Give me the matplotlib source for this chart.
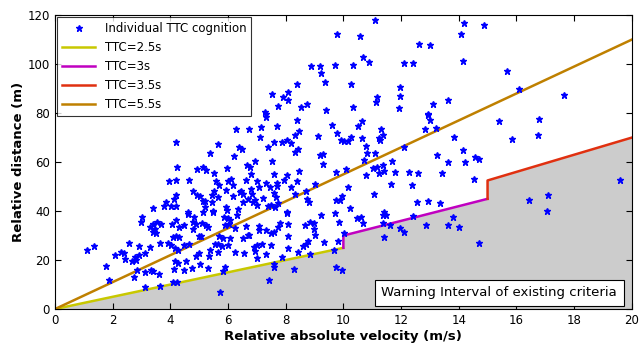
import numpy as np
import matplotlib.pyplot as plt

# relative velocity (m/s) and distance (m) of each individual TTC cognition
vel = [9.77, 8.87, 9.18, 9.71, 9.21, 9.38, 8.40, 7.51, 7.90, 8.09, 8.08, 7.73, 8.53, 8.73, 9.40, 7.30,
       11.11, 10.57, 14.17, 14.88, 14.08, 12.62, 13.01, 10.68, 10.89, 10.34, 12.09, 12.41, 14.14, 10.25,
       11.98, 11.96, 11.17, 11.13, 13.64, 13.12, 10.32, 11.94, 12.94,
       15.66, 16.08, 17.66,
       4.18, 4.22, 4.91, 3.96, 4.20, 4.65, 4.77, 4.20, 4.11, 4.93, 3.86, 3.78, 4.03, 4.19, 3.39, 4.63,
       7.31, 7.33, 8.40, 6.28, 6.72, 7.15, 7.71, 8.45, 7.12, 8.32, 9.62, 9.78, 9.12, 9.91, 5.64, 7.58,
       7.86, 8.03, 8.18, 7.38, 6.39, 6.48, 8.43, 8.31, 5.37, 6.21, 9.19, 9.30, 9.31, 7.53, 6.93, 6.67,
       6.76, 5.13, 5.23, 5.97, 5.51, 6.78, 7.61, 8.05, 8.46, 9.76, 6.09, 5.99, 5.60, 6.62, 6.99, 7.94,
       8.38, 7.70, 5.70, 6.18, 7.32, 7.47, 7.71, 7.08, 9.01, 8.19, 5.52, 5.93, 6.45, 6.78, 5.44, 6.41,
       6.53, 6.83, 7.61, 8.70, 8.34, 5.04, 5.65, 6.19, 7.21, 7.66, 6.68, 5.13, 5.21, 5.46, 6.51, 6.85,
       6.95, 8.75, 8.82, 9.73, 9.89, 7.73, 7.00, 7.38, 7.49, 7.64, 5.92, 5.21, 6.33, 8.03, 9.71, 5.47,
       5.97,
       12.94, 13.01, 10.65, 10.50, 11.29, 12.83, 13.21, 11.36, 10.26, 10.16, 10.01, 10.65, 11.23, 11.28,
       13.84, 10.77, 12.09, 10.82, 11.09, 13.24, 14.15, 14.57, 14.70, 10.72, 11.68, 13.64, 14.23, 10.10,
       11.03, 11.16, 11.36, 11.40, 11.23, 10.79, 11.78, 12.29, 12.58, 13.43, 14.53, 11.65, 12.38, 10.16,
       11.07, 9.97, 12.57, 12.94, 13.36, 10.23, 11.40,
       15.38, 16.79, 15.86, 16.75, 19.59, 17.11, 16.45, 17.07,
       3.03, 3.00, 4.63, 4.82, 4.77, 4.89, 4.18, 4.07, 4.31, 4.48, 4.78, 3.54, 3.69, 3.40, 3.28, 3.46,
       3.39, 3.49, 4.98, 4.08, 4.20, 4.31, 1.12, 1.37, 2.55, 2.93, 3.30, 3.63, 3.93, 4.01, 4.15, 4.27,
       4.46, 4.64, 2.07, 2.28, 2.39, 2.43, 2.76, 2.82, 2.66, 2.93, 3.13, 4.15, 4.26, 4.53, 4.89, 1.76,
       2.84, 3.13, 3.33, 3.41, 4.13, 4.46, 4.75, 2.75, 3.62, 1.89, 3.12, 3.63, 4.08, 4.24, 5.01,
       5.15, 5.47, 5.85, 5.99, 6.07, 6.32, 8.04, 9.21, 9.86, 5.10, 5.23, 5.30, 5.88, 6.05, 6.24, 6.62,
       7.07, 7.08, 7.31, 7.50, 7.61, 7.73, 7.82, 8.08, 8.67, 8.84, 8.99, 8.99, 9.01, 8.08, 5.06, 5.69,
       5.82, 6.08, 6.53, 6.68, 6.74, 9.34, 8.76, 8.70, 8.60, 9.80, 5.56, 5.66, 5.78, 6.01, 6.90, 7.02,
       7.18, 7.48, 8.08, 5.36, 5.66, 6.24, 6.54, 6.95, 7.33, 8.41, 8.84, 9.68, 5.33, 7.01, 7.88, 5.04,
       5.88, 5.82, 7.58, 7.59, 8.28, 9.75, 9.94, 5.29, 7.43, 5.73,
       10.47, 10.62, 10.69, 11.36, 11.47, 12.41, 13.79, 11.38, 11.62, 11.97, 12.09, 12.88, 13.62, 14.02,
       10.03, 11.40, 14.70]
dist = [112.2, 99.3, 99.3, 99.6, 96.2, 92.5, 92.0, 88.0, 86.5, 88.6, 85.2, 83.1, 82.3, 83.7, 81.2, 80.5,
        118.0, 111.4, 116.6, 116.1, 112.2, 108.2, 107.8, 103.0, 100.8, 99.7, 100.3, 100.6, 101.3, 91.8,
        90.7, 87.1, 86.5, 84.4, 85.3, 83.7, 82.4, 82.2, 79.7,
        97.1, 89.7, 87.3,
        68.4, 58.2, 57.3, 52.1, 52.7, 52.5, 48.0, 46.7, 45.0, 46.4, 43.7, 41.9, 42.2, 42.2, 41.2, 39.6,
        79.7, 78.4, 77.0, 73.5, 73.5, 74.3, 74.7, 72.5, 70.2, 70.9, 75.2, 71.8, 70.5, 69.1, 67.3, 68.2,
        68.2, 69.1, 67.9, 66.1, 66.0, 65.2, 65.3, 64.1, 63.7, 62.3, 62.7, 63.4, 59.2, 60.5, 60.3, 58.9,
        57.8, 58.2, 56.9, 57.6, 55.4, 55.0, 55.1, 54.8, 56.2, 55.8, 52.9, 52.1, 52.2, 52.5, 52.2, 52.7,
        52.4, 51.6, 50.8, 50.5, 51.3, 49.8, 50.2, 49.7, 51.1, 49.7, 48.4, 48.8, 48.4, 49.1, 46.7, 47.9,
        46.9, 46.8, 47.2, 48.2, 46.8, 46.1, 45.8, 46.1, 45.3, 45.7, 44.9, 44.0, 44.0, 43.7, 43.7, 43.6,
        44.6, 45.0, 43.8, 44.4, 44.4, 43.3, 42.6, 41.9, 42.3, 41.5, 41.5, 41.5, 40.8, 39.6, 39.3, 40.1,
        40.5,
        79.3, 77.3, 76.7, 74.6, 73.5, 73.5, 73.8, 71.2, 70.3, 68.7, 68.7, 69.7, 69.7, 69.1,
        70.1, 66.7, 66.0, 63.7, 63.8, 63.1, 64.8, 61.9, 61.3, 60.9, 60.4, 60.0, 60.0, 57.3,
        57.4, 58.0, 58.7, 56.4, 55.5, 54.6, 55.8, 55.8, 55.5, 55.6, 53.2, 51.1, 50.5, 49.8,
        46.9, 46.0, 43.8, 44.2, 43.3, 41.2, 39.5,
        76.7, 77.6, 69.5, 71.0, 52.8, 46.4, 44.6, 40.1,
        37.6, 35.5, 38.8, 37.6, 35.6, 34.6, 36.3, 34.6, 33.5, 34.3, 32.8, 35.5, 34.6, 34.9, 33.6, 32.5,
        31.3, 30.9, 29.8, 29.4, 29.8, 29.5, 24.0, 25.7, 26.9, 25.6, 25.3, 26.9, 27.1, 26.1, 25.0, 24.1,
        26.0, 26.4, 21.9, 23.3, 22.7, 20.5, 21.4, 20.0, 19.6, 21.9, 22.9, 19.6, 18.9, 19.6, 21.6, 17.4,
        15.8, 15.1, 16.0, 15.5, 16.4, 16.0, 16.6, 13.1, 14.2, 11.7, 9.0, 9.5, 11.0, 11.0, 23.0,
        39.6, 39.7, 37.7, 37.0, 36.3, 38.2, 39.1, 38.2, 35.5, 35.2, 34.3, 33.6, 34.4, 34.6, 33.1, 34.0,
        33.8, 32.1, 32.1, 30.9, 31.6, 33.5, 35.2, 34.7, 34.3, 35.6, 35.2, 32.5, 30.1, 29.9, 29.8, 29.8,
        28.9, 29.1, 29.1, 30.2, 30.2, 27.3, 27.8, 26.7, 25.8, 27.9, 26.7, 26.7, 25.8, 26.1, 25.3, 26.1,
        26.7, 26.3, 24.8, 24.1, 23.3, 23.1, 23.0, 23.7, 22.6, 23.4, 22.3, 24.0, 21.6, 20.7, 21.2, 18.5,
        17.3, 15.5, 18.5, 17.1, 16.5, 17.1, 15.9, 16.9, 12.0, 7.1,
        37.0, 37.7, 35.1, 38.6, 38.6, 38.0, 37.4, 35.1, 34.3, 32.9, 31.4, 34.4, 34.2, 33.5,
        31.0, 29.4, 27.1]

# criteria lines
ttc25_v = [0, 10]
ttc25_d = [0, 25]
ttc3_v = [10, 10, 15]
ttc3_d = [25, 30, 45]
ttc35_v = [15, 15, 20]
ttc35_d = [45, 52.5, 70]
ttc55_v = [0, 20]
ttc55_d = [0, 110]

fig = plt.figure(figsize=(6.43, 3.52), dpi=100)
ax = fig.add_axes([0.0855, 0.122, 0.897, 0.835])

# warning interval (area under existing criteria)
bound_v = ttc25_v + ttc3_v + ttc35_v
bound_d = ttc25_d + ttc3_d + ttc35_d
ax.fill_between(bound_v, bound_d, 0, color='#cccccc', lw=0, zorder=1)

ax.plot(vel, dist, '*', color='#0000ff', ms=4.5, label='Individual TTC cognition', zorder=3)
ax.plot(ttc25_v, ttc25_d, color='#c8c800', lw=1.8, label='TTC=2.5s', zorder=2)
ax.plot(ttc3_v, ttc3_d, color='#c000c0', lw=1.8, label='TTC=3s', zorder=2)
ax.plot(ttc35_v, ttc35_d, color='#e03010', lw=1.8, label='TTC=3.5s', zorder=2)
ax.plot(ttc55_v, ttc55_d, color='#bf8000', lw=1.8, label='TTC=5.5s', zorder=2)

ax.set_xlim(0, 20)
ax.set_ylim(0, 120)
ax.set_xticks(range(0, 21, 2))
ax.set_yticks(range(0, 121, 20))
ax.tick_params(direction='in', top=True, right=True, labelsize=8.5, length=4)
ax.set_xlabel('Relative absolute velocity (m/s)', fontsize=9.5, fontweight='bold', labelpad=2)
ax.set_ylabel('Relative distance (m)', fontsize=9.5, fontweight='bold', labelpad=2)

leg = ax.legend(loc='upper left', fontsize=8.5, fancybox=False, edgecolor='black',
                borderaxespad=0.2, handlelength=2.8, labelspacing=0.5)
leg.get_frame().set_linewidth(0.8)

ax.text(0.77, 0.055, 'Warning Interval of existing criteria', transform=ax.transAxes,
        ha='center', va='center', fontsize=9.5, zorder=4,
        bbox=dict(boxstyle='square,pad=0.5', fc='white', ec='black', lw=0.8))

fig.savefig('out.png', dpi=100)
